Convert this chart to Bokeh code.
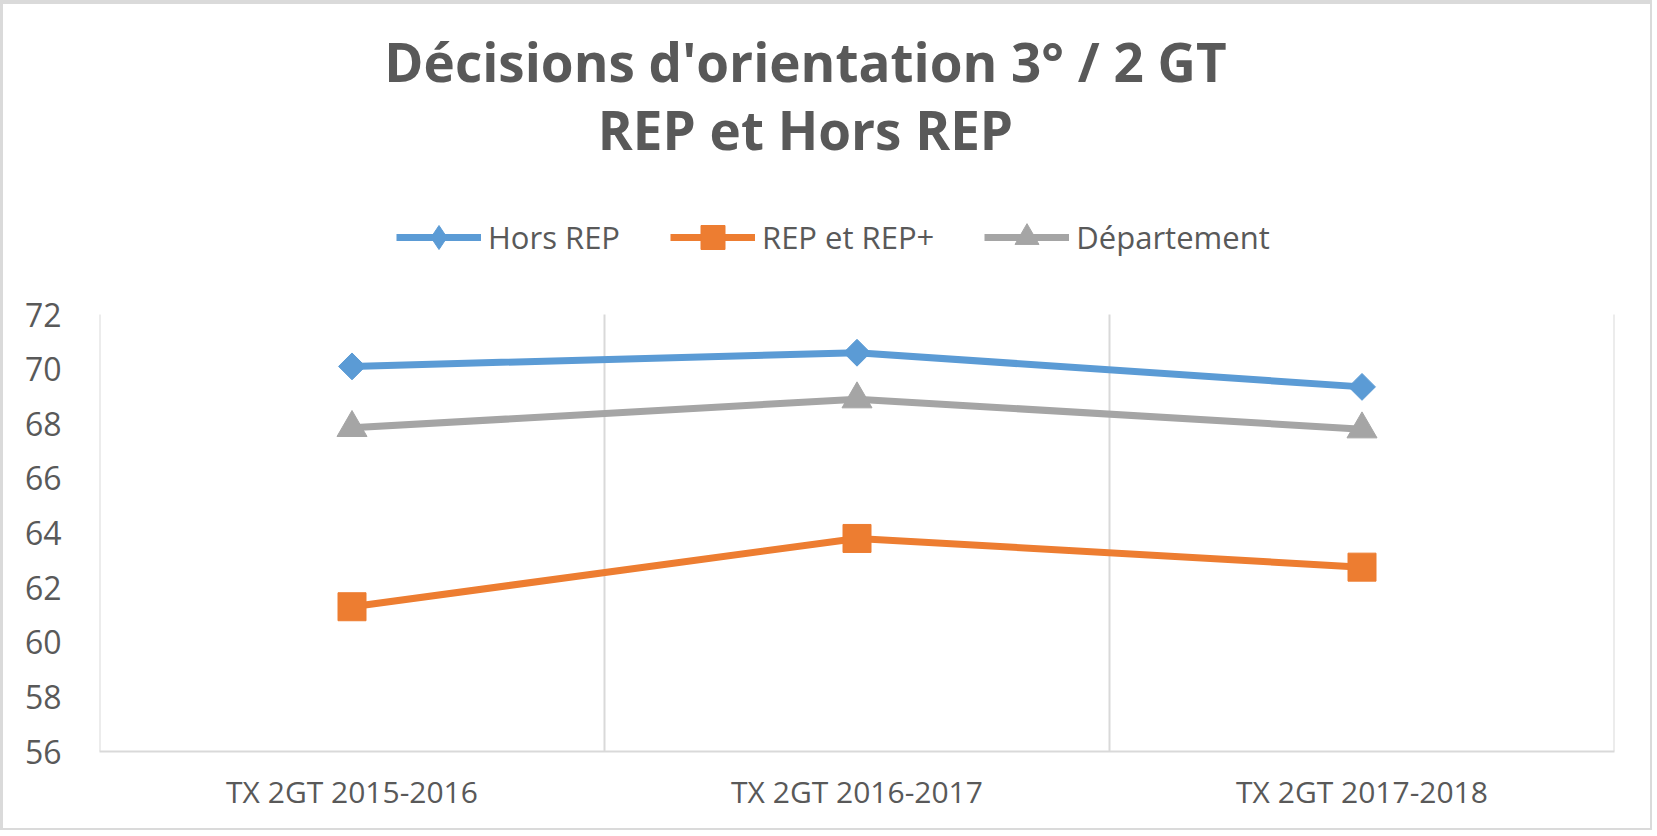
from bokeh.plotting import figure
from bokeh.models import Legend, LegendItem, FixedTicker, Range1d, Label
from bokeh.embed import file_html
from bokeh.resources import INLINE
import math

categories = ["TX 2GT 2015-2016", "TX 2GT 2016-2017", "TX 2GT 2017-2018"]
hors_rep = [70.1, 70.6, 69.35]
rep_plus = [61.3, 63.8, 62.75]
departement = [67.85, 68.9, 67.8]
y_ticks = [56, 58, 60, 62, 64, 66, 68, 70, 72]
series_names = ["Hors REP", "REP et REP+", "Département"]
title_lines = ["Décisions d'orientation 3° / 2 GT", "REP et Hors REP"]

FONT = "Open Sans"
TXT = "#595959"
GRID = "#d9d9d9"
FRAME_COLOR = "#dadada"

# outer chart border (css), widths in px: top, right, bottom, left
BT, BR, BB, BL = 4, 2, 2, 3
W, H = 1657 - BL - BR, 836 - BT - BB
LEFT, RIGHT, BOTTOM = 99 - BL, 43 - BR, 85 - BB   # borders around plotting frame
AXIS_TOP_PX = 314 - BT                 # canvas y of the top value (72)
frame_h = H - BOTTOM
ppu = (frame_h - AXIS_TOP_PX) / (y_ticks[-1] - y_ticks[0])   # pixels per unit
y_end = y_ticks[0] + frame_h / ppu
frame_w = W - LEFT - RIGHT
ncat = len(categories)

def data_x(px):
    return (px - BL - LEFT) / frame_w * ncat

def data_y(py):
    return y_ticks[0] + (frame_h - (py - BT)) / ppu

p = figure(width=W, height=H, output_backend="svg", toolbar_location=None,
           x_range=Range1d(0, ncat), y_range=Range1d(y_ticks[0], y_end),
           min_border_left=LEFT, min_border_right=RIGHT, min_border_top=0,
           min_border_bottom=BOTTOM)
p.styles = {"border-style": "solid", "border-color": FRAME_COLOR,
            "border-width": f"{BT}px {BR}px {BB}px {BL}px"}
p.outline_line_color = None
p.background_fill_color = "white"
p.border_fill_color = "white"
p.xgrid.grid_line_color = None
p.ygrid.grid_line_color = None

xs = [i + 0.5 for i in range(ncat)]

# vertical category separators, spanning the value axis only
bounds = list(range(ncat + 1))
p.segment(x0=bounds, y0=[y_ticks[0]] * len(bounds), x1=bounds,
          y1=[y_ticks[-1]] * len(bounds), line_color=GRID, line_width=2)

p.xaxis.ticker = FixedTicker(ticks=xs)
p.xaxis.major_label_overrides = {x: c for x, c in zip(xs, categories)}
p.xaxis.major_tick_line_color = None
p.xaxis.minor_tick_line_color = None
p.xaxis.axis_line_color = GRID
p.xaxis.axis_line_width = 2
p.xaxis.major_label_standoff = 13
p.xaxis.major_label_text_font = FONT
p.xaxis.major_label_text_font_size = "30px"
p.xaxis.major_label_text_color = TXT

p.yaxis.ticker = FixedTicker(ticks=y_ticks)
p.yaxis.major_tick_line_color = None
p.yaxis.minor_tick_line_color = None
p.yaxis.axis_line_color = None
p.yaxis.major_label_standoff = 32
p.yaxis.major_label_text_font = FONT
p.yaxis.major_label_text_font_size = "32px"
p.yaxis.major_label_text_color = TXT

series = [
    (hors_rep, "#5b9bd5", "square", 19, math.pi / 4, "diamond"),
    (rep_plus, "#ed7d31", "square", 28, 0, None),
    (departement, "#a5a5a5", "triangle", 30, 0, None),
]
items = []
for (vals, color, marker, size, ang, leg_marker), name in zip(series, series_names):
    lr = p.line(xs, vals, line_color=color, line_width=7)
    sr = p.scatter(xs, vals, marker=marker, size=size, angle=ang,
                   fill_color=color, line_color=color)
    leg_r = [lr, sr]
    if leg_marker is not None:
        # legend-only glyph (rotated markers are drawn unrotated in legends)
        lg = p.scatter(xs, vals, marker=leg_marker, size=size,
                       fill_color=color, line_color=color, visible=False)
        leg_r = [lr, lg]
    items.append(LegendItem(label=name, renderers=leg_r))

legend = Legend(items=items, orientation="horizontal",
                location=(396 - BL - LEFT, frame_h - (267 - BT)),
                glyph_width=85, glyph_height=60, label_standoff=7, spacing=50,
                padding=0, margin=0, border_line_color=None, background_fill_alpha=0,
                click_policy="none",
                label_text_font=FONT, label_text_font_size="31px", label_text_color=TXT)
p.add_layout(legend, "center")

for txt, py in zip(title_lines, [61, 129]):
    p.add_layout(Label(x=data_x(805), y=data_y(py), text=txt,
                       text_align="center", text_baseline="middle",
                       text_font=FONT, text_font_size="53px", text_font_style="bold",
                       text_color=TXT))

open("out.html", "w").write(file_html(p, INLINE))
